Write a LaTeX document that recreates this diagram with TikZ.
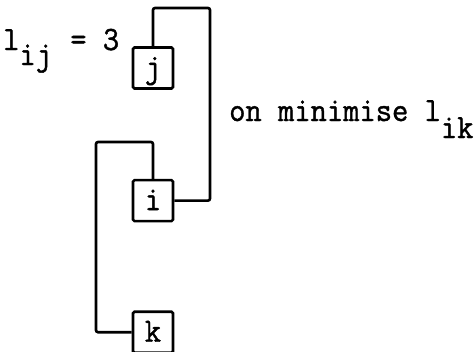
\documentclass[tikz,border=0pt]{standalone}
\usepackage{fontspec}
\setmonofont[FakeStretch=0.93,FakeBold=1.2]{Latin Modern Mono}
\usetikzlibrary{positioning}

\begin{document}
\begin{tikzpicture}[x=1pt,y=-1pt,font=\ttfamily\fontsize{34}{40}\selectfont,
  cell/.style={draw,line width=2.6pt,rounded corners=1.5pt,inner sep=0pt,
    minimum width=40pt,minimum height=41pt,text height=30pt,text depth=11pt},
  link/.style={line width=2.6pt,rounded corners=2pt}]
\useasboundingbox (0,0) rectangle (474,351);
\node[cell] (j) at (153,68) {j};
\node[cell,below=89pt of j] (i) {i};
\node[cell,below=88pt of i] (k) {k};
\coordinate (rtop) at (210,8);
\coordinate (ltop) at (96,142);
\draw[link] (j.north) |- (rtop) |- (i.east);
\draw[link] (i.north) |- (ltop) |- (k.west);
\node[anchor=base west,inner sep=0pt] (lij) at (3,50) {l\raisebox{-15pt}{ij}\hspace{2pt} = 3};
\node[anchor=base west,inner sep=0pt] (goal) at (229,121) {on minimise l\raisebox{-17pt}{ik}};
\end{tikzpicture}
\end{document}
